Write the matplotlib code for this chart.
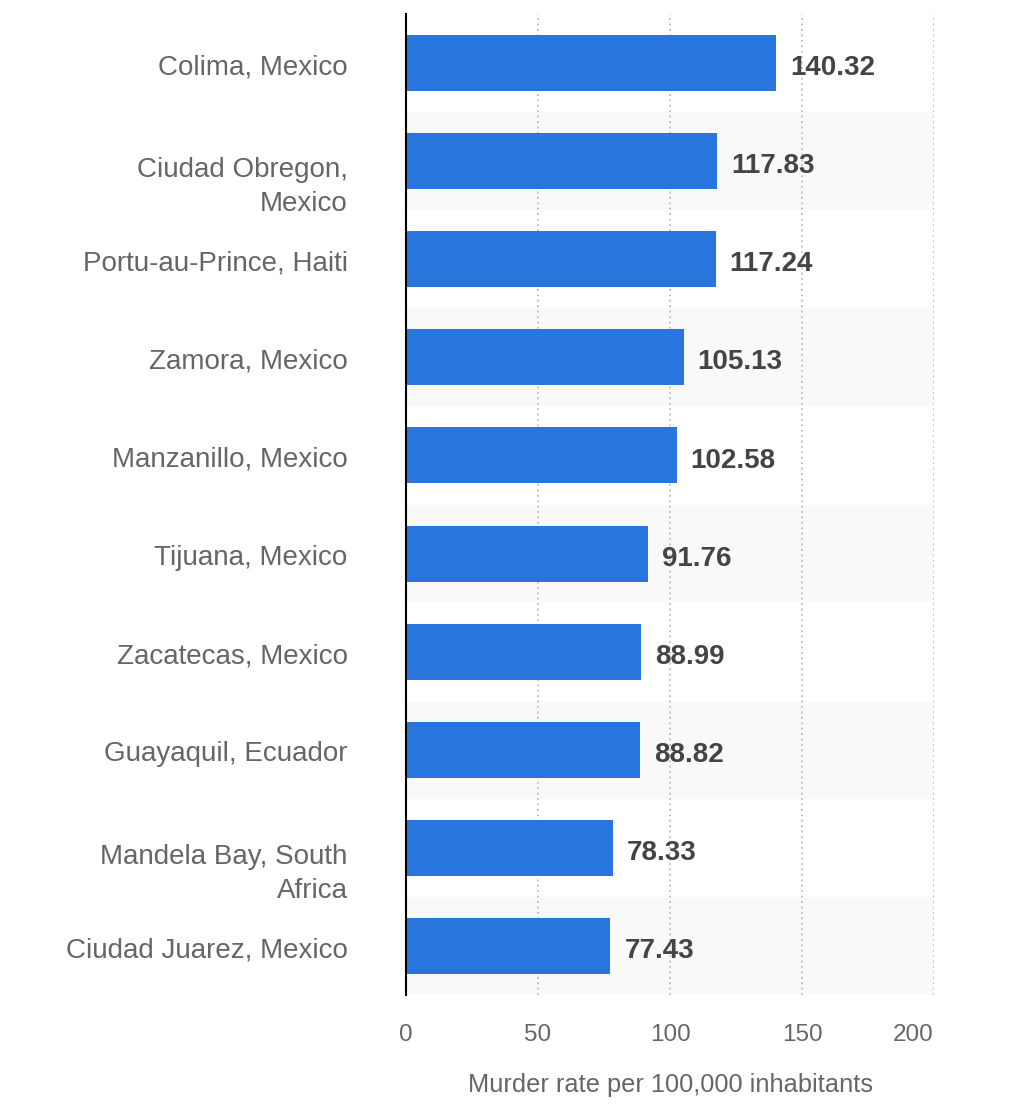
import matplotlib
matplotlib.use('Agg')
import matplotlib.pyplot as plt
import numpy as np

cities = ["Colima, Mexico", "Ciudad Obregon,\nMexico", "Portu-au-Prince, Haiti",
          "Zamora, Mexico", "Manzanillo, Mexico", "Tijuana, Mexico",
          "Zacatecas, Mexico", "Guayaquil, Ecuador", "Mandela Bay, South\nAfrica",
          "Ciudad Juarez, Mexico"]
rates = [140.32, 117.83, 117.24, 105.13, 102.58, 91.76, 88.99, 88.82, 78.33, 77.43]
x_ticks = [0, 50, 100, 150, 200]
x_label = "Murder rate per 100,000 inhabitants"

plt.rcParams['font.family'] = ['Liberation Sans', 'DejaVu Sans']

W, H = 1024, 1115
fig = plt.figure(figsize=(W / 100, H / 100), dpi=100)
ax = fig.add_axes([406 / W, 1 - 995 / H, 528 / W, 981 / H])

n = len(cities)
y = np.arange(n)
ax.set_ylim(n - 0.5, -0.5)
ax.set_xlim(x_ticks[0], x_ticks[-1])

for i in range(n):
    if i % 2 == 1:
        ax.axhspan(i - 0.5, i + 0.5, color='#f9f9f9', zorder=0, lw=0)

for t in x_ticks[1:]:
    ax.axvline(t, color='#bdbdbd', lw=1.3, linestyle=(0, (1, 2)), zorder=1)

ax.barh(y, rates, height=0.57, color='#2876dd', zorder=2)

for i, v in enumerate(rates):
    ax.annotate(f"{v:.2f}", xy=(v, i), xytext=(10, -1.5), textcoords='offset points',
                va='center_baseline', ha='left', fontsize=20, fontweight='bold',
                color='#444444')

line_step_pt = 25.2
for i, c in enumerate(cities):
    nl = c.count('\n')
    dy = -1.0 - nl * line_step_pt / 2
    ax.annotate(c, xy=(0, i), xycoords=('axes fraction', 'data'), xytext=(-42, dy),
                textcoords='offset points', ha='right', va='center_baseline',
                fontsize=20, color='#666666', linespacing=1.42)

ax.set_yticks([])
ax.set_xticks(x_ticks)
ax.set_xticklabels([str(t) for t in x_ticks])
ax.tick_params(axis='x', length=0, pad=21, labelsize=17.5, labelcolor='#666666')
ax.get_xticklabels()[-1].set_ha('right')

for s in ['top', 'right', 'bottom']:
    ax.spines[s].set_visible(False)
ax.spines['left'].set_color('black')
ax.spines['left'].set_linewidth(1.5)
ax.spines['left'].set_zorder(3)

ax.set_xlabel(x_label, fontsize=18.3, color='#666666', labelpad=19)

fig.savefig('out.png', dpi=100, facecolor='white')
